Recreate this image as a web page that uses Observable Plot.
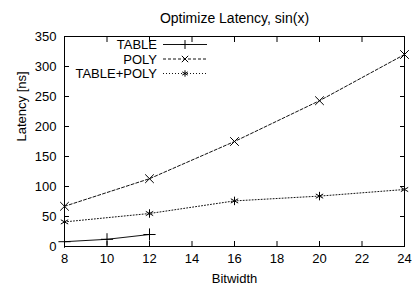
<!DOCTYPE html>
<html><head><meta charset="utf-8">
<script src="https://cdn.jsdelivr.net/npm/d3@7"></script>
<script src="https://cdn.jsdelivr.net/npm/@observablehq/plot@0.6"></script>
<style>body{margin:0;background:#fff}svg{display:block}</style>
</head><body><div id="c"></div>
<script>
const title = "Optimize Latency, sin(x)";
const xLabel = "Bitwidth";
const yLabel = "Latency [ns]";
const xTicks = [8, 10, 12, 14, 16, 18, 20, 22, 24];
const yTicks = [0, 50, 100, 150, 200, 250, 300, 350];
const seriesNames = ["TABLE", "POLY", "TABLE+POLY"];
const tableX = [8, 10, 12];
const tableY = [8, 12, 20];
const polyX = [8, 12, 16, 20, 24];
const polyY = [67, 113, 175, 243, 320];
const tpX = [8, 12, 16, 20, 24];
const tpY = [41, 55, 76, 84, 95];

const styles = {
  "TABLE": {dash: null, symbol: "plus"},
  "POLY": {dash: "3,2", symbol: "times"},
  "TABLE+POLY": {dash: "1,2", symbol: "asterisk"}
};
const series = [
  {name: "TABLE", xs: tableX, ys: tableY},
  {name: "POLY", xs: polyX, ys: polyY},
  {name: "TABLE+POLY", xs: tpX, ys: tpY}
];
const font = "Liberation Sans, Arial, Helvetica, sans-serif";
const marks = [];
for (const s of series) {
  const data = s.xs.map((x, i) => ({x, y: s.ys[i]}));
  marks.push(Plot.line(data, {x: "x", y: "y", stroke: "#111", strokeWidth: 1, strokeDasharray: styles[s.name].dash}));
  marks.push(Plot.dot(data, {x: "x", y: "y", symbol: () => styles[s.name].symbol, r: 4, stroke: "#000", strokeWidth: 1}));
}
const chart = Plot.plot({
  width: 415, height: 294,
  marginLeft: 64, marginRight: 11, marginTop: 36, marginBottom: 48,
  style: {fontFamily: font, fontSize: "13px", color: "#000", background: "#fff"},
  x: {domain: [8, 24]},
  y: {domain: [0, 350]},
  marks: [
    Plot.frame({stroke: "#000", strokeWidth: 1}),
    Plot.axisX({ticks: xTicks, tickSize: -5, tickPadding: 12, label: null, fontSize: 13}),
    Plot.axisX({anchor: "top", ticks: xTicks, tickSize: -5, tickFormat: () => "", label: null}),
    Plot.axisY({ticks: yTicks, tickSize: -5, tickPadding: 13, label: null, fontSize: 13}),
    Plot.axisY({anchor: "right", ticks: yTicks, tickSize: -5, tickFormat: () => "", label: null}),
    ...marks,
    Plot.text([title], {frameAnchor: "top", dy: -23, fontSize: 14}),
    Plot.text([xLabel], {frameAnchor: "bottom", dy: 36, fontSize: 13}),
    Plot.text([yLabel], {frameAnchor: "left", dx: -43, rotate: -90, fontSize: 13})
  ]
});
document.getElementById("c").appendChild(chart);
// legend
const svg = d3.select(chart);
const lg = svg.append("g").attr("font-family", font).attr("font-size", 13);
seriesNames.forEach((name, i) => {
  const y = 44.5 + i * 14.5;
  lg.append("text").attr("x", 157).attr("y", y).attr("dy", "0.35em").attr("text-anchor", "end").text(name);
  lg.append("line").attr("x1", 163).attr("x2", 207).attr("y1", y).attr("y2", y)
    .attr("stroke", "#111").attr("stroke-dasharray", styles[name].dash);
  lg.append("path").attr("transform", `translate(185,${y})`)
    .attr("d", d3.symbol(({plus: d3.symbolPlus, times: d3.symbolTimes, asterisk: d3.symbolAsterisk})[styles[name].symbol], 28)())
    .attr("fill", "none").attr("stroke", "#000");
});
</script></body></html>
